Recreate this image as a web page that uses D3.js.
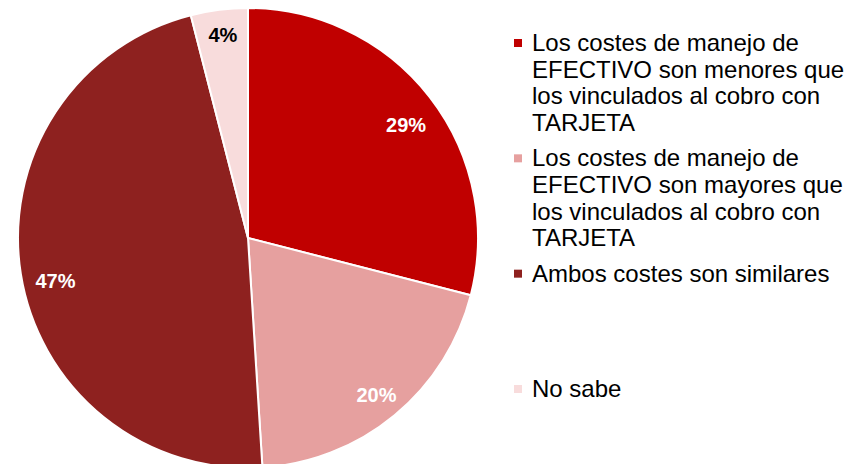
<!DOCTYPE html>
<html>
<head>
<meta charset="utf-8">
<script src="https://cdn.jsdelivr.net/npm/d3@7"></script>
<style>
  body { margin: 0; background: #fff; }
  svg { display: block; font-family: "Liberation Sans", Arial, sans-serif; }
</style>
</head>
<body>
<svg id="chart" width="849" height="464"></svg>
<script>
// data
var categories = [
    ["Los costes de manejo de", "EFECTIVO son menores que", "los vinculados al cobro con", "TARJETA"],
    ["Los costes de manejo de", "EFECTIVO son mayores que", "los vinculados al cobro con", "TARJETA"],
    ["Ambos costes son similares"],
    ["No sabe"]
];
var values = [29, 20, 47, 4];
var colors = ["#C00000", "#E6A09F", "#8E211F", "#F8DCDC"];
var labelColors = ["#fff", "#fff", "#fff", "#000"];

var svg = d3.select("#chart");
var cx = 248, cy = 238, radius = 230;

var pie = d3.pie().sort(null).value(d => d);
var arc = d3.arc().innerRadius(0).outerRadius(radius);
var labelArc = d3.arc().innerRadius(200).outerRadius(200);
// small nudges so labels sit where the original put them
var labelNudge = [[0, 9], [1, 3], [5, 12], [0, -5]];

var g = svg.append("g").attr("transform", `translate(${cx},${cy})`);
var arcs = pie(values);

g.selectAll("path")
    .data(arcs)
    .enter()
    .append("path")
    .attr("d", arc)
    .attr("fill", (d, i) => colors[i])
    .attr("stroke", "#fff")
    .attr("stroke-width", 2);

g.selectAll("text")
    .data(arcs)
    .enter()
    .append("text")
    .attr("transform", function(d, i) {
        var c = labelArc.centroid(d);
        return `translate(${c[0] + labelNudge[i][0]},${c[1] + labelNudge[i][1]})`;
    })
    .attr("text-anchor", "middle")
    .attr("dy", "0.36em")
    .style("font-size", "20px")
    .style("font-weight", "bold")
    .style("fill", (d, i) => labelColors[i])
    .text(d => d.data + "%");

// legend
var legendX = 514, lineH = 26.7;
var legendY = d3.scaleLinear().domain([0, 3]).range([51, 397]);
var legend = svg.append("g");
categories.forEach(function(lines, i) {
    var y0 = legendY(i);
    legend.append("rect")
        .attr("x", legendX)
        .attr("y", y0 - 12)
        .attr("width", 8)
        .attr("height", 8)
        .attr("fill", colors[i]);
    var t = legend.append("text")
        .attr("x", legendX + 18)
        .attr("y", y0)
        .style("font-size", "24px")
        .style("fill", "#000");
    lines.forEach(function(l, j) {
        t.append("tspan")
            .attr("x", legendX + 18)
            .attr("y", y0 + j * lineH)
            .text(l);
    });
});
</script>
</body>
</html>
